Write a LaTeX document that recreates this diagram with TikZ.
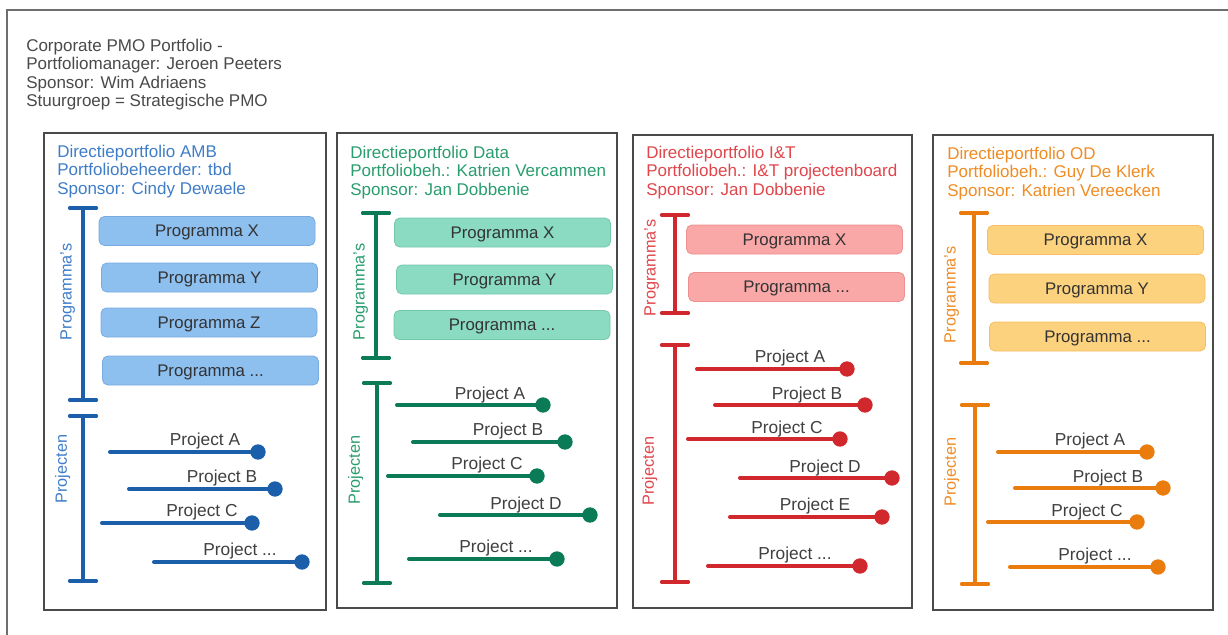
\documentclass[tikz,border=0pt]{standalone}
\usepackage{fontspec}
\setmainfont{Liberation Sans}
\definecolor{bluetxt}{HTML}{3F7DC8}
\definecolor{blueln}{HTML}{1B5FAA}
\definecolor{bluefill}{HTML}{8DBFEF}
\definecolor{bluedraw}{HTML}{78ACE0}
\definecolor{greentxt}{HTML}{2A9D6F}
\definecolor{greenln}{HTML}{0B7A57}
\definecolor{greenfill}{HTML}{8ADBC1}
\definecolor{greendraw}{HTML}{76C8AC}
\definecolor{redtxt}{HTML}{E0464B}
\definecolor{redln}{HTML}{D0282D}
\definecolor{redfill}{HTML}{F9A7A7}
\definecolor{reddraw}{HTML}{EE9090}
\definecolor{orangetxt}{HTML}{F08C24}
\definecolor{orangeln}{HTML}{E97C0C}
\definecolor{orangefill}{HTML}{FCD27E}
\definecolor{orangedraw}{HTML}{F5BE60}
\definecolor{frame}{HTML}{4A4A4A}
\definecolor{darktext}{HTML}{333333}
\definecolor{projtext}{HTML}{404040}
\tikzset{
  outerframe/.style={draw=frame!80, line width=1.2pt},
  panel/.style={draw=frame, line width=1.4pt, fill=white, inner sep=0pt},
  header/.style={anchor=north west, align=left, inner sep=0pt, font=\fontsize{12.75pt}{13.9pt}\selectfont},
  prog/.style={rounded corners=4pt, line width=0.6pt, minimum width=162pt, minimum height=21.75pt, inner sep=0pt, text depth=0pt, text=darktext, font=\fontsize{12.6pt}{14pt}\selectfont},
  sidelabel/.style={rotate=90, inner sep=0pt, text depth=0pt, font=\fontsize{12.2pt}{14pt}\selectfont},
  brk/.style={line width=2.6pt, line cap=round},
  projln/.style={line width=3pt, line cap=round},
  enddot/.style={circle, minimum size=11.5pt, inner sep=0pt},
  projlabel/.style={inner sep=0pt, text depth=0pt, text=projtext, font=\fontsize{13pt}{14pt}\selectfont}
}
\newcommand{\projline}[8]{%
  \coordinate (#1s) at (#2,#4);
  \node[enddot, fill=#8] (#1e) at (#3,#4) {};
  \draw[projln, draw=#8] (#1s) -- (#1e.center);
  \node[projlabel] (#1l) at (#5,#6) {#7};
}
\newcommand{\brkt}[5]{%
  \coordinate (#1t) at (#2,#3);
  \coordinate (#1b) at (#2,#4);
  \draw[brk, draw=#5] (#1t) -- (#1b);
  \draw[brk, draw=#5] ([xshift=-10pt]#1t) -- ([xshift=10pt]#1t);
  \draw[brk, draw=#5] ([xshift=-10pt]#1b) -- ([xshift=10pt]#1b);
}
\begin{document}
\begin{tikzpicture}[x=0.75pt, y=-0.75pt]
\useasboundingbox (0,0) rectangle (1228,635);
\clip (0,0) rectangle (1228,635);
\fill[white] (0,0) rectangle (1228,635);
% outer frame
\draw[outerframe] (7,660) -- (7,10) -- (1250,10);
\node[header, text=frame] (title) at (26,38.5) {Corporate PMO Portfolio -\\Portfoliomanager: Jeroen Peeters\\Sponsor: Wim Adriaens\\Stuurgroep = Strategische PMO};

% panels
\node[panel, minimum width=211.5pt, minimum height=357.75pt] (pA) at (185,371.5) {};
\node[panel, minimum width=210pt, minimum height=356.25pt] (pB) at (477,370.5) {};
\node[panel, minimum width=209.25pt, minimum height=354.75pt] (pC) at (772.5,371.5) {};
\node[panel, minimum width=210pt, minimum height=356.25pt] (pD) at (1073,372.5) {};

% ---------------- AMB (blue)
\node[header, text=bluetxt] (hA) at (57,144.5) {Directieportfolio AMB\\Portfoliobeheerder: tbd\\Sponsor: Cindy Dewaele};
\brkt{Aprg}{83}{208}{400}{blueln}
\brkt{Aprj}{83}{416}{581}{blueln}
\node[sidelabel, text=bluetxt] (Aprgl) at (66,292) {Programma's};
\node[sidelabel, text=bluetxt] (Aprjl) at (61,469) {Projecten};
\node[prog, fill=bluefill, draw=bluedraw] (AX) at (207,231) {Programma X};
\node[prog, fill=bluefill, draw=bluedraw] (AY) at (209.5,277.5) {Programma Y};
\node[prog, fill=bluefill, draw=bluedraw] (AZ) at (209,322.5) {Programma Z};
\node[prog, fill=bluefill, draw=bluedraw] (AD) at (210.5,370.5) {Programma ...};
\projline{Apa}{110}{258}{452}{205}{439}{Project A}{blueln}
\projline{Apb}{129}{275}{489}{222}{476}{Project B}{blueln}
\projline{Apc}{102}{252}{523}{202}{510}{Project C}{blueln}
\projline{Apd}{154}{302}{562}{240}{549}{Project ...}{blueln}

% ---------------- Data (green)
\node[header, text=greentxt] (hB) at (350,145.5) {Directieportfolio Data\\Portfoliobeh.: Katrien Vercammen\\Sponsor: Jan Dobbenie};
\brkt{Bprg}{376}{213}{358}{greenln}
\brkt{Bprj}{377}{383}{583}{greenln}
\node[sidelabel, text=greentxt] (Bprgl) at (359,292) {Programma's};
\node[sidelabel, text=greentxt] (Bprjl) at (354,470) {Projecten};
\node[prog, fill=greenfill, draw=greendraw] (BX) at (502.5,232.5) {Programma X};
\node[prog, fill=greenfill, draw=greendraw] (BY) at (504.5,279.5) {Programma Y};
\node[prog, fill=greenfill, draw=greendraw] (BD) at (502,325) {Programma ...};
\projline{Bpa}{397}{543}{405}{490}{393}{Project A}{greenln}
\projline{Bpb}{413}{565}{442}{508}{429}{Project B}{greenln}
\projline{Bpc}{388}{537}{476}{487}{463}{Project C}{greenln}
\projline{Bpd}{440}{590}{515}{526}{503}{Project D}{greenln}
\projline{Bpe}{409}{557}{559}{496}{546}{Project ...}{greenln}

% ---------------- I&T (red)
\node[header, text=redtxt] (hC) at (646,145.5) {Directieportfolio I\&T\\Portfoliobeh.: I\&T projectenboard\\Sponsor: Jan Dobbenie};
\brkt{Cprg}{675}{215}{313}{redln}
\brkt{Cprj}{675}{345}{582}{redln}
\node[sidelabel, text=redtxt] (Cprgl) at (650,268) {Programma's};
\node[sidelabel, text=redtxt] (Cprjl) at (648,471) {Projecten};
\node[prog, fill=redfill, draw=reddraw] (CX) at (794.5,239.5) {Programma X};
\node[prog, fill=redfill, draw=reddraw] (CD) at (796.5,287) {Programma ...};
\projline{Cpa}{697}{847}{369}{790}{356}{Project A}{redln}
\projline{Cpb}{715}{865}{405}{807}{393}{Project B}{redln}
\projline{Cpc}{688}{840}{439}{787}{427}{Project C}{redln}
\projline{Cpd}{740}{892}{478}{825}{466}{Project D}{redln}
\projline{Cpe}{730}{882}{517}{815}{504}{Project E}{redln}
\projline{Cpf}{708}{860}{566}{795}{553}{Project ...}{redln}

% ---------------- OD (orange)
\node[header, text=orangetxt] (hD) at (947,146.5) {Directieportfolio OD\\Portfoliobeh.: Guy De Klerk\\Sponsor: Katrien Vereecken};
\brkt{Dprg}{974}{213}{363}{orangeln}
\brkt{Dprj}{975}{405}{584}{orangeln}
\node[sidelabel, text=orangetxt] (Dprgl) at (950,295) {Programma's};
\node[sidelabel, text=orangetxt] (Dprjl) at (950,472) {Projecten};
\node[prog, fill=orangefill, draw=orangedraw] (DX) at (1095.5,240) {Programma X};
\node[prog, fill=orangefill, draw=orangedraw] (DY) at (1097,288.5) {Programma Y};
\node[prog, fill=orangefill, draw=orangedraw] (DD) at (1097.5,336.5) {Programma ...};
\projline{Dpa}{998}{1147}{452}{1090}{439}{Project A}{orangeln}
\projline{Dpb}{1015}{1163}{488}{1108}{476}{Project B}{orangeln}
\projline{Dpc}{988}{1137}{522}{1087}{510}{Project C}{orangeln}
\projline{Dpd}{1010}{1158}{567}{1095}{554}{Project ...}{orangeln}
\end{tikzpicture}
\end{document}
